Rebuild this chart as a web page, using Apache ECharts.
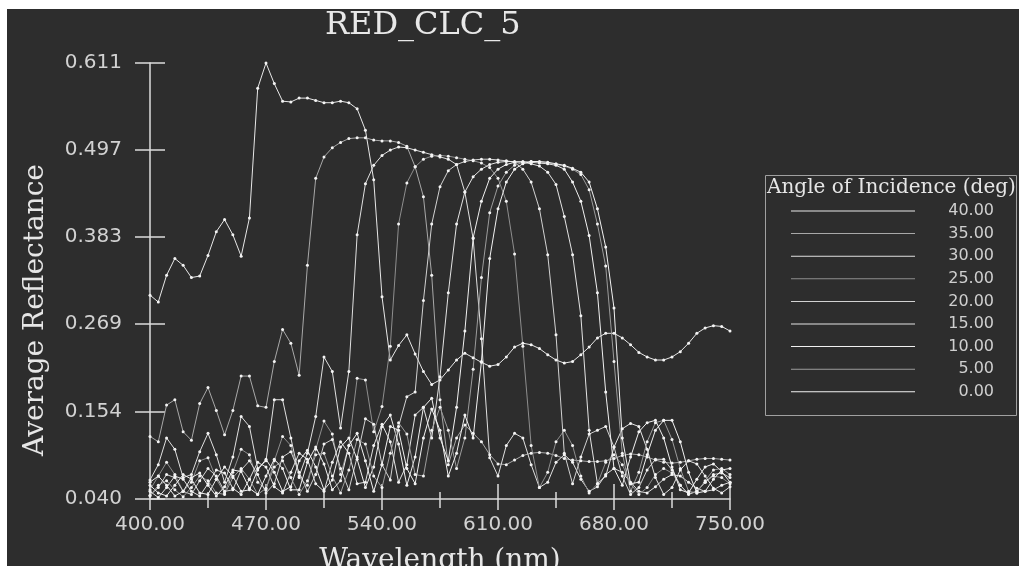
<!DOCTYPE html>
<html>
<head>
<meta charset="utf-8">
<title>RED_CLC_5</title>
<script src="https://cdn.jsdelivr.net/npm/echarts@6.0.0/dist/echarts.min.js"></script>
<style>
    html, body { margin: 0; padding: 0; background: #ffffff; }
    #main { width: 1019px; height: 566px; }
</style>
</head>
<body>
<div id="main"></div>
<script>
    // wavelength samples (nm)
    var wavelengths = [
        400, 405, 410, 415, 420, 425, 430, 435, 440, 445,
        450, 455, 460, 465, 470, 475, 480, 485, 490, 495,
        500, 505, 510, 515, 520, 525, 530, 535, 540, 545,
        550, 555, 560, 565, 570, 575, 580, 585, 590, 595,
        600, 605, 610, 615, 620, 625, 630, 635, 640, 645,
        650, 655, 660, 665, 670, 675, 680, 685, 690, 695,
        700, 705, 710, 715, 720, 725, 730, 735, 740, 745,
        750
    ];

    var xTicks = [400, 470, 540, 610, 680, 750];
    var xMinorTicks = [435, 505, 575, 645, 715];
    var yTicks = [0.040, 0.154, 0.269, 0.383, 0.497, 0.611];

    // legend names, top to bottom
    var angles = ['40.00', '35.00', '30.00', '25.00', '20.00', '15.00', '10.00', '5.00', '0.00'];

    var r40 = [
        0.307, 0.298, 0.333, 0.355, 0.346, 0.330, 0.332, 0.359, 0.390, 0.406,
        0.386, 0.358, 0.408, 0.578, 0.611, 0.584, 0.561, 0.560, 0.565, 0.565,
        0.562, 0.559, 0.559, 0.561, 0.559, 0.551, 0.523, 0.458, 0.305, 0.222,
        0.241, 0.255, 0.230, 0.207, 0.190, 0.196, 0.209, 0.222, 0.231, 0.225,
        0.219, 0.214, 0.216, 0.226, 0.239, 0.244, 0.242, 0.237, 0.229, 0.222,
        0.218, 0.220, 0.229, 0.239, 0.251, 0.257, 0.257, 0.251, 0.242, 0.232,
        0.226, 0.222, 0.222, 0.226, 0.233, 0.244, 0.257, 0.264, 0.267, 0.266,
        0.260
    ];
    var r35 = [
        0.122, 0.115, 0.163, 0.170, 0.128, 0.117, 0.165, 0.186, 0.156, 0.124,
        0.156, 0.201, 0.201, 0.162, 0.160, 0.220, 0.262, 0.244, 0.202, 0.346,
        0.460, 0.488, 0.500, 0.507, 0.512, 0.513, 0.513, 0.510, 0.509, 0.509,
        0.507, 0.502, 0.475, 0.436, 0.333, 0.170, 0.085, 0.120, 0.137, 0.126,
        0.115, 0.098, 0.086, 0.085, 0.091, 0.097, 0.100, 0.101, 0.100, 0.097,
        0.093, 0.091, 0.090, 0.089, 0.089, 0.090, 0.093, 0.097, 0.099, 0.098,
        0.095, 0.091, 0.088, 0.087, 0.088, 0.090, 0.092, 0.093, 0.093, 0.092,
        0.091
    ];
    var r30 = [
        0.065, 0.085, 0.120, 0.105, 0.068, 0.072, 0.102, 0.126, 0.098, 0.062,
        0.095, 0.148, 0.135, 0.080, 0.090, 0.170, 0.170, 0.120, 0.070, 0.100,
        0.148, 0.226, 0.207, 0.133, 0.207, 0.386, 0.453, 0.477, 0.490, 0.497,
        0.501, 0.500, 0.497, 0.494, 0.491, 0.488, 0.485, 0.478, 0.442, 0.381,
        0.250, 0.094, 0.070, 0.110, 0.126, 0.120, 0.085, 0.055, 0.062, 0.088,
        0.098, 0.088, 0.066, 0.050, 0.056, 0.072, 0.080, 0.075, 0.062, 0.050,
        0.048, 0.056, 0.066, 0.072, 0.070, 0.062, 0.054, 0.050, 0.052, 0.058,
        0.062
    ];
    var r25 = [
        0.052, 0.070, 0.088, 0.072, 0.050, 0.062, 0.090, 0.094, 0.066, 0.048,
        0.075, 0.105, 0.098, 0.062, 0.052, 0.090, 0.122, 0.110, 0.068, 0.058,
        0.105, 0.142, 0.125, 0.072, 0.110, 0.198, 0.196, 0.128, 0.161, 0.240,
        0.400, 0.454, 0.475, 0.485, 0.489, 0.490, 0.489, 0.487, 0.485, 0.483,
        0.480, 0.474, 0.460, 0.430, 0.361, 0.240, 0.110, 0.055, 0.075, 0.115,
        0.130, 0.110, 0.070, 0.048, 0.060, 0.088, 0.098, 0.085, 0.060, 0.046,
        0.055, 0.072, 0.080, 0.074, 0.058, 0.047, 0.050, 0.062, 0.070, 0.068,
        0.060
    ];
    var r20 = [
        0.045, 0.055, 0.072, 0.068, 0.050, 0.046, 0.064, 0.080, 0.070, 0.050,
        0.052, 0.078, 0.090, 0.072, 0.048, 0.060, 0.095, 0.102, 0.075, 0.050,
        0.072, 0.112, 0.118, 0.080, 0.052, 0.095, 0.145, 0.138, 0.085, 0.065,
        0.135, 0.174, 0.180, 0.300, 0.400, 0.449, 0.470, 0.478, 0.482, 0.484,
        0.485, 0.485, 0.484, 0.483, 0.481, 0.472, 0.455, 0.420, 0.360, 0.255,
        0.100, 0.060, 0.095, 0.125, 0.130, 0.135, 0.108, 0.070, 0.046, 0.055,
        0.078, 0.092, 0.092, 0.078, 0.058, 0.046, 0.050, 0.062, 0.072, 0.074,
        0.068
    ];
    var r15 = [
        0.050, 0.042, 0.055, 0.070, 0.066, 0.050, 0.044, 0.060, 0.078, 0.074,
        0.054, 0.046, 0.066, 0.088, 0.082, 0.056, 0.048, 0.075, 0.100, 0.092,
        0.060, 0.050, 0.088, 0.115, 0.100, 0.060, 0.062, 0.110, 0.138, 0.115,
        0.062, 0.085, 0.150, 0.160, 0.120, 0.200, 0.310, 0.400, 0.442, 0.462,
        0.472, 0.478, 0.481, 0.482, 0.482, 0.481, 0.479, 0.476, 0.468, 0.452,
        0.410, 0.360, 0.280, 0.130, 0.060, 0.070, 0.108, 0.132, 0.139, 0.135,
        0.105, 0.068, 0.046, 0.055, 0.078, 0.090, 0.086, 0.070, 0.054, 0.048,
        0.056
    ];
    var r10 = [
        0.058, 0.048, 0.044, 0.058, 0.072, 0.066, 0.048, 0.046, 0.066, 0.082,
        0.070, 0.050, 0.052, 0.078, 0.092, 0.075, 0.050, 0.056, 0.090, 0.104,
        0.082, 0.052, 0.065, 0.108, 0.120, 0.092, 0.055, 0.082, 0.135, 0.150,
        0.112, 0.058, 0.095, 0.160, 0.172, 0.120, 0.090, 0.160, 0.260, 0.382,
        0.430, 0.460, 0.472, 0.478, 0.481, 0.482, 0.481, 0.480, 0.479, 0.477,
        0.472, 0.455, 0.430, 0.385, 0.310, 0.180, 0.080, 0.058, 0.095, 0.128,
        0.140, 0.143, 0.120, 0.082, 0.052, 0.048, 0.066, 0.082, 0.086, 0.076,
        0.062
    ];
    var r5 = [
        0.044, 0.058, 0.064, 0.052, 0.043, 0.055, 0.070, 0.064, 0.048, 0.046,
        0.068, 0.080, 0.066, 0.046, 0.054, 0.082, 0.090, 0.068, 0.046, 0.064,
        0.098, 0.100, 0.070, 0.048, 0.078, 0.118, 0.112, 0.070, 0.055, 0.100,
        0.140, 0.125, 0.072, 0.070, 0.130, 0.160, 0.130, 0.080, 0.120, 0.210,
        0.330, 0.415, 0.450, 0.468, 0.477, 0.481, 0.482, 0.481, 0.480, 0.478,
        0.476, 0.472, 0.465, 0.445, 0.400, 0.345, 0.220, 0.100, 0.050, 0.075,
        0.115, 0.140, 0.143, 0.118, 0.080, 0.050, 0.048, 0.064, 0.078, 0.080,
        0.072
    ];
    var r0 = [
        0.062, 0.070, 0.058, 0.044, 0.050, 0.068, 0.074, 0.058, 0.044, 0.056,
        0.078, 0.076, 0.054, 0.046, 0.070, 0.092, 0.080, 0.052, 0.052, 0.088,
        0.108, 0.086, 0.052, 0.064, 0.110, 0.126, 0.090, 0.050, 0.085, 0.135,
        0.130, 0.080, 0.060, 0.120, 0.158, 0.130, 0.070, 0.100, 0.150, 0.120,
        0.220, 0.355, 0.420, 0.455, 0.472, 0.479, 0.482, 0.482, 0.481, 0.479,
        0.477, 0.473, 0.468, 0.455, 0.420, 0.370, 0.290, 0.120, 0.060, 0.062,
        0.098, 0.130, 0.143, 0.143, 0.115, 0.075, 0.048, 0.050, 0.066, 0.078,
        0.080
    ];

    var curves = [r40, r35, r30, r25, r20, r15, r10, r5, r0];
    var lineColors = ['#e8e8e8', '#a8a8a8', '#e0e0e0', '#8e8e8e', '#d2d2d2', '#e4e4e4', '#f0f0f0', '#9c9c9c', '#f2f2f2'];

    var axisColor = '#dcdcdc';
    var labelColor = '#d2d2d2';

    var series = curves.map(function (vals, i) {
        return {
            name: angles[i],
            type: 'line',
            data: wavelengths.map(function (w, k) { return [w, vals[k]]; }),
            symbol: 'circle',
            symbolSize: 3,
            showSymbol: true,
            lineStyle: { color: lineColors[i], width: 1 },
            itemStyle: { color: '#f4f4f4' },
            emphasis: { disabled: true },
            z: 2
        };
    });

    var chart = echarts.init(document.getElementById('main'));

    var option = {
        backgroundColor: '#2d2d2d',
        animation: false,
        title: {
            text: 'RED_CLC_5',
            left: 325,
            top: 10,
            padding: 0,
            textStyle: { fontFamily: 'DejaVu Serif', fontSize: 32, fontWeight: 'normal', color: '#e8e8e8' }
        },
        grid: { left: 150, right: 289, top: 63, bottom: 67, containLabel: false, outerBoundsMode: 'none' },
        legend: {
            orient: 'vertical',
            left: 791,
            top: 203,
            icon: 'rect',
            itemWidth: 124,
            itemHeight: 1,
            itemGap: 6.6,
            selectedMode: false,
            padding: 0,
            data: angles.map(function (a, i) {
                return { name: a, itemStyle: { color: lineColors[i] } };
            }),
            formatter: function (name) { return '{v|' + name + '}'; },
            textStyle: {
                rich: {
                    v: { width: 74, align: 'right', lineHeight: 18, color: '#cfcfcf', fontFamily: 'DejaVu Sans', fontSize: 16 }
                }
            }
        },
        xAxis: [
            {
                type: 'value', min: 400, max: 750, position: 'bottom',
                axisLine: { show: true, onZero: false, lineStyle: { color: axisColor, width: 1.5 } },
                axisTick: { show: true, inside: false, length: 11, customValues: xTicks, lineStyle: { color: axisColor, width: 1.5 } },
                axisLabel: {
                    customValues: xTicks, margin: 16, color: labelColor, fontFamily: 'DejaVu Sans', fontSize: 20,
                    formatter: function (v) { return v.toFixed(2); }
                },
                splitLine: { show: false },
                name: 'Wavelength (nm)', nameLocation: 'middle', nameGap: 48,
                nameTextStyle: { fontFamily: 'DejaVu Serif', fontSize: 28, color: '#e6e6e6' }
            },
            {
                type: 'value', min: 400, max: 750, position: 'bottom',
                axisLine: { show: false, onZero: false },
                axisTick: { show: true, inside: true, length: 15, customValues: xTicks, lineStyle: { color: axisColor, width: 1.5 } },
                axisLabel: { show: false },
                splitLine: { show: false }
            },
            {
                type: 'value', min: 400, max: 750, position: 'bottom',
                axisLine: { show: false, onZero: false },
                axisTick: { show: true, inside: false, length: 9, customValues: xMinorTicks, lineStyle: { color: axisColor, width: 1.5 } },
                axisLabel: { show: false },
                splitLine: { show: false }
            },
            {
                type: 'value', min: 400, max: 750, position: 'bottom',
                axisLine: { show: false, onZero: false },
                axisTick: { show: true, inside: true, length: 7, customValues: xMinorTicks, lineStyle: { color: axisColor, width: 1.5 } },
                axisLabel: { show: false },
                splitLine: { show: false }
            }
        ],
        yAxis: [
            {
                type: 'value', min: 0.040, max: 0.611, position: 'left',
                axisLine: { show: true, onZero: false, lineStyle: { color: axisColor, width: 1.5 } },
                axisTick: { show: true, inside: false, length: 15, customValues: yTicks, lineStyle: { color: axisColor, width: 1.5 } },
                axisLabel: {
                    customValues: yTicks, margin: 28, color: labelColor, fontFamily: 'DejaVu Sans', fontSize: 20,
                    formatter: function (v) { return v.toFixed(3); }
                },
                splitLine: { show: false }
            },
            {
                type: 'value', min: 0.040, max: 0.611, position: 'left',
                axisLine: { show: false, onZero: false },
                axisTick: { show: true, inside: true, length: 15, customValues: yTicks, lineStyle: { color: axisColor, width: 1.5 } },
                axisLabel: { show: false },
                splitLine: { show: false }
            }
        ],
        graphic: [
            // white page margin on top and left
            { type: 'rect', shape: { x: 0, y: 0, width: 1019, height: 9 }, style: { fill: '#ffffff' }, silent: true },
            { type: 'rect', shape: { x: 0, y: 0, width: 7, height: 566 }, style: { fill: '#ffffff' }, silent: true },
            // legend frame
            { type: 'rect', shape: { x: 765.5, y: 175.5, width: 251, height: 240 }, style: { fill: null, stroke: '#a0a0a0', lineWidth: 1 }, silent: true },
            {
                type: 'text', x: 767, y: 178, silent: true,
                style: { text: 'Angle of Incidence (deg)', fontFamily: 'DejaVu Serif', fontSize: 20, fill: '#e6e6e6' }
            },
            {
                type: 'text', x: 36, y: 310, rotation: Math.PI / 2, silent: true,
                style: { text: 'Average Reflectance', fontFamily: 'DejaVu Serif', fontSize: 28, fill: '#e6e6e6', align: 'center', verticalAlign: 'middle' }
            }
        ],
        series: series
    };

    chart.setOption(option);
</script>
</body>
</html>
